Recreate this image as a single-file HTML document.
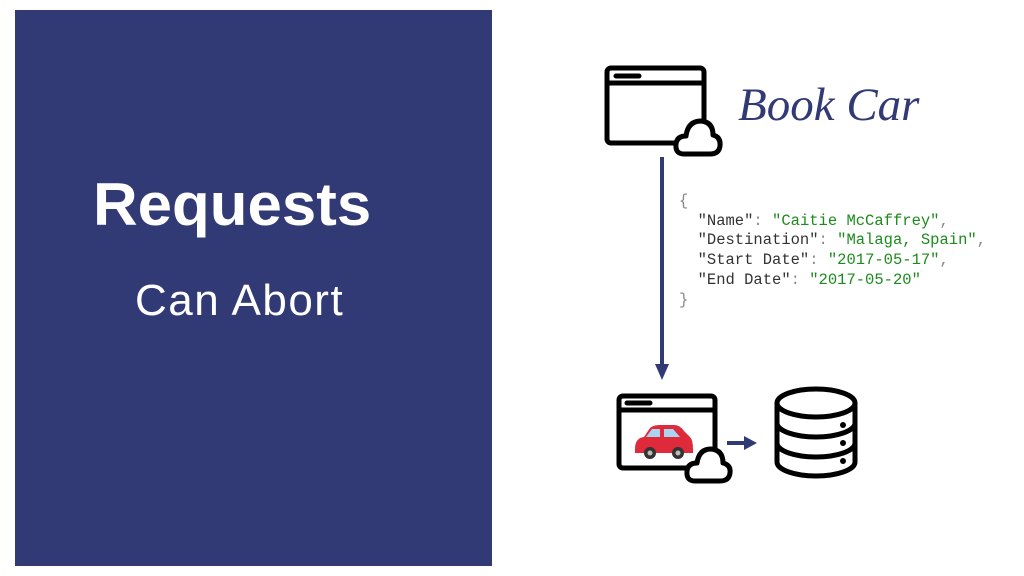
<!DOCTYPE html>
<html><head><style>
body{margin:0;width:1024px;height:576px;background:#fff;position:relative;overflow:hidden;font-family:"Liberation Sans",sans-serif}
.panel{position:absolute;left:15px;top:10px;width:477px;height:556px;background:#323a75}
.t1{position:absolute;left:93px;top:170px;color:#fff;font-weight:bold;font-size:60px;letter-spacing:0px;transform:scaleX(1.03);transform-origin:left}
.t2{position:absolute;left:135px;top:276px;color:#fff;font-size:44px;letter-spacing:1.5px}
.code{position:absolute;left:679px;top:192px;font-family:"Liberation Mono",monospace;font-size:15.5px;line-height:19.7px;color:#333;white-space:pre}
.g{color:#1d8a1d}.p{color:#888}
.bc{position:absolute;left:738px;top:78px;font-family:"Liberation Serif",serif;font-style:italic;font-size:47px;color:#323a75}
</style></head><body>
<div class="panel"></div>
<div class="t1">Requests</div>
<div class="t2">Can Abort</div>
<div class="bc">Book Car</div>
<div class="code"><span class="p">{</span>
  "Name"<span class="p">:</span> <span class="g">"Caitie McCaffrey"</span><span class="p">,</span>
  "Destination"<span class="p">:</span> <span class="g">"Malaga, Spain"</span><span class="p">,</span>
  "Start Date"<span class="p">:</span> <span class="g">"2017-05-17"</span><span class="p">,</span>
  "End Date"<span class="p">:</span> <span class="g">"2017-05-20"</span>
<span class="p">}</span></div>
<svg width="1024" height="576" style="position:absolute;left:0;top:0">
<g fill="none" stroke="#000" stroke-width="5" stroke-linejoin="round">
<rect x="607" y="68" width="97" height="75" rx="4"/>
<line x1="607" y1="83" x2="704" y2="83"/>
<line x1="616" y1="76" x2="639" y2="76" stroke-linecap="round"/>
<path d="M684 154 Q675 154 676 144 Q677 136 686 136 Q688 121 701 121 Q713 122 713 135 Q721 137 720 146 Q719 154 710 154 Z" fill="#fff"/>
<rect x="619" y="396" width="96" height="72" rx="4"/>
<line x1="619" y1="410" x2="715" y2="410"/>
<line x1="627" y1="403" x2="650" y2="403" stroke-linecap="round"/>
<path d="M695 481 Q686 481 687 471 Q688 463 697 463 Q699 449 711 449 Q723 450 723 463 Q731 465 730 473 Q729 481 720 481 Z" fill="#fff"/>
<ellipse cx="816" cy="403" rx="39" ry="14"/>
<path d="M777 403 V462 A39 14 0 0 0 855 462 V403"/>
<path d="M777 423 A39 14 0 0 0 855 423 M777 443 A39 14 0 0 0 855 443"/>
</g>
<g fill="#000"><circle cx="843" cy="425" r="3"/><circle cx="843" cy="443" r="3"/><circle cx="843" cy="461" r="3"/></g>
<line x1="662" y1="157" x2="662" y2="366" stroke="#323a75" stroke-width="4"/>
<polygon points="655,364 669,364 662,380" fill="#323a75"/>
<line x1="727" y1="443" x2="746" y2="443" stroke="#323a75" stroke-width="4"/>
<polygon points="744,436 757,443 744,450" fill="#323a75"/>
<path d="M635 449 Q635 438 644 437 L650 428 Q653 425 660 425 L674 425 Q680 425 684 431 L690 437 Q693 440 693 449 L693 453 L635 453 Z" fill="#de2a3a"/>
<path d="M652 429 L660 429 L660 437 L646 437 Z M664 429 L673 429 L680 437 L664 437 Z" fill="#aad4ef"/>
<circle cx="650" cy="453" r="6" fill="#333"/><circle cx="650" cy="453" r="2.5" fill="#bbb"/>
<circle cx="678" cy="453" r="6" fill="#333"/><circle cx="678" cy="453" r="2.5" fill="#bbb"/>
</svg>
</body></html>
